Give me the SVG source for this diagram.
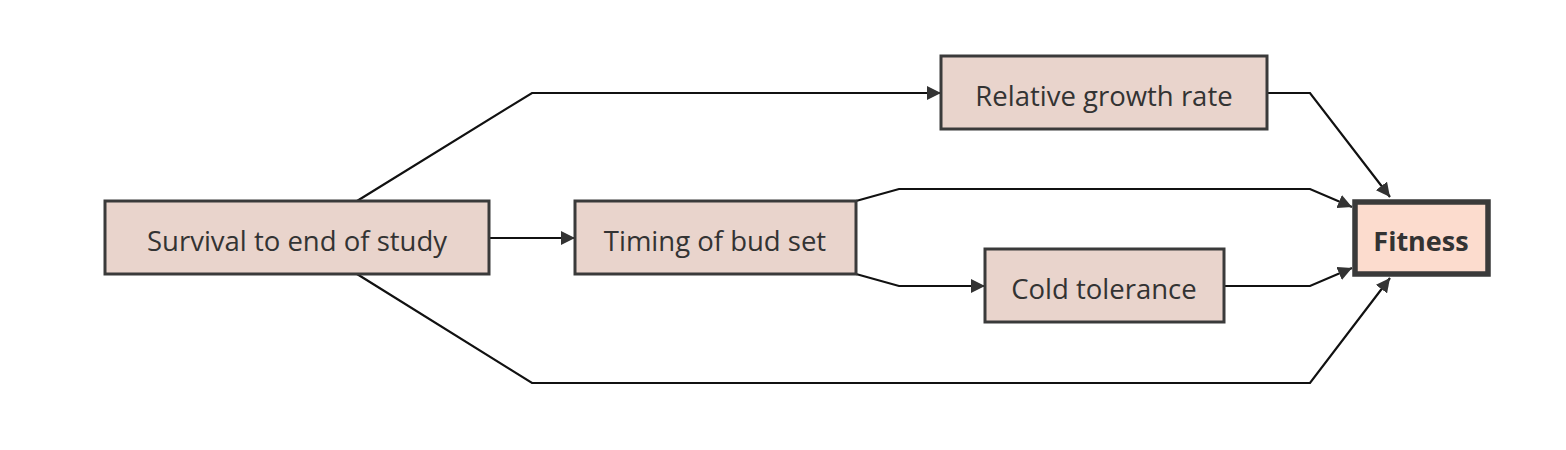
<svg xmlns="http://www.w3.org/2000/svg" width="1566" height="450" viewBox="0 0 1566 450">
<style>
.node rect{fill:#e9d4cc;stroke:#3a3a3a;stroke-width:3}
.node text{font-family:"Open Sans",sans-serif;font-size:27.5px;fill:#333;text-anchor:middle;dominant-baseline:central}
#fitness rect{fill:#fcdcce;stroke:#3a3a3a;stroke-width:5.5}
#fitness text{font-weight:bold;font-size:27px}
.edges path{fill:none;stroke:#111;stroke-width:2.2}
</style>
<defs>
<marker id="arr" viewBox="0 0 10 10" refX="10" refY="5" markerWidth="14" markerHeight="14" markerUnits="userSpaceOnUse" orient="auto">
<path d="M0,0 L10,5 L0,10 Z" fill="#333"/>
</marker>
</defs>
<rect width="1566" height="450" fill="#fff"/>
<g class="edges">
<path d="M357,201 L532,93 L941,93" marker-end="url(#arr)"/>
<path d="M489,238 L575,238" marker-end="url(#arr)"/>
<path d="M357,274 L532,383 L1310,383 L1390,278" marker-end="url(#arr)"/>
<path d="M1267,93 L1310,93 L1390,197" marker-end="url(#arr)"/>
<path d="M856,201 L899,189 L1310,189 L1352,207" marker-end="url(#arr)"/>
<path d="M856,274 L899,286 L985,286" marker-end="url(#arr)"/>
<path d="M1224,286 L1310,286 L1352,268" marker-end="url(#arr)"/>
</g>
<g class="node" id="survival"><rect x="105" y="201" width="384" height="73"/><text x="297" y="240">Survival to end of study</text></g>
<g class="node" id="timing"><rect x="575" y="201" width="281" height="73"/><text x="715" y="240">Timing of bud set</text></g>
<g class="node" id="growth"><rect x="941" y="56" width="326" height="73"/><text x="1104" y="95">Relative growth rate</text></g>
<g class="node" id="cold"><rect x="985" y="249" width="239" height="73"/><text x="1104" y="288">Cold tolerance</text></g>
<g class="node" id="fitness"><rect x="1355" y="202" width="133" height="72"/><text x="1421" y="240">Fitness</text></g>
</svg>
